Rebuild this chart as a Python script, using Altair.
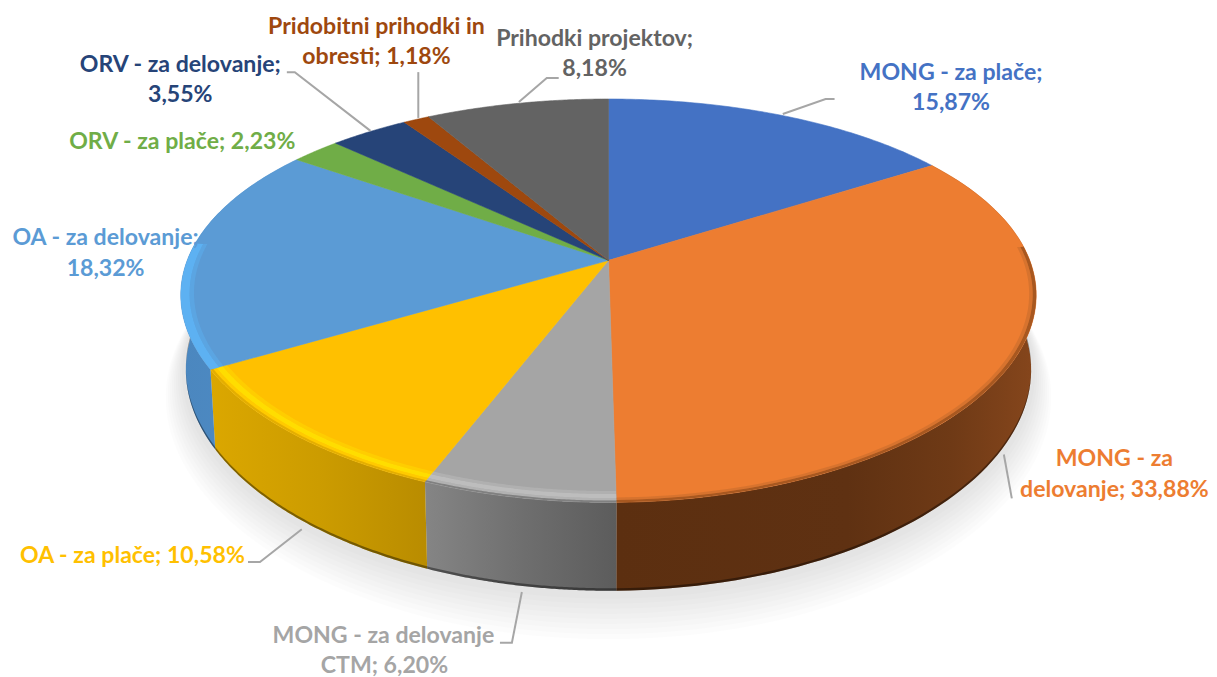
import numpy as np
import altair as alt

names = ["MONG - za plače", "MONG - za delovanje", "MONG - za delovanje CTM", "OA - za plače",
         "OA - za delovanje", "ORV - za plače", "ORV - za delovanje",
         "Pridobitni prihodki in obresti", "Prihodki projektov"]
shares = [15.87, 33.88, 6.20, 10.58, 18.32, 2.23, 3.55, 1.18, 8.18]
colors = ["#4472c4", "#ed7d31", "#a5a5a5", "#ffc000", "#5b9bd5", "#70ad47", "#264478", "#9e480e", "#636363"]

label_lines = ["MONG - za plače;", "15,87%", "MONG - za", "delovanje; 33,88%", "MONG - za delovanje", "CTM; 6,20%",
               "OA - za plače; 10,58%", "OA - za delovanje;", "18,32%", "ORV - za plače; 2,23%",
               "ORV - za delovanje;", "3,55%", "Pridobitni prihodki in", "obresti; 1,18%",
               "Prihodki projektov;", "8,18%"]
label_slice = [0, 0, 1, 1, 2, 2, 3, 4, 4, 5, 6, 6, 7, 7, 8, 8]
label_x = [955, 955, 1119, 1119, 385, 386, 133, 106, 106, 183, 181, 181, 378, 378, 597, 597]
label_y = [72, 102, 460, 491, 637, 667, 557, 238, 269, 141, 64, 94, 26, 56, 38, 68]

leader_id = [0, 0, 0, 1, 1, 2, 2, 2, 3, 3, 3, 4, 4, 4, 5, 5, 6, 6, 6]
leader_x = [786, 829, 838, 1008, 1016, 524, 514, 502, 303, 261, 249, 372, 296, 288, 420, 420, 521, 549, 561]
leader_y = [113, 98, 98, 455, 499, 593, 644, 644, 530, 563, 563, 130, 71, 71, 117, 71, 101, 77, 77]

# perspective model of the disc, in picture pixels
CX, CY, A, B, PX, PY = 610.0, 260.0, 423.0, 194.4, 0.173, 0.2
CY2, A2, B2 = 333.0, 418.0, 207.0

cum = np.concatenate([[0], np.cumsum(shares)])
edges = cum / cum[-1] * 2 * np.pi


def top(t, r=1.0):
    u, v = r * np.sin(t), r * np.cos(t)
    return np.c_[CX + A * u / (1 + PX * v), CY - B * v / (1 + PY * v)]


def bottom(t, grow=0.0, drop=0.0):
    u, v = np.sin(t), np.cos(t)
    return np.c_[CX + (A2 + grow) * u / (1 + PX * v), CY2 + drop - (B2 + grow) * v / (1 + PY * v)]


def feature(pts, **props):
    ring = [[float(x), float(y)] for x, y in pts]
    ring.append(ring[0])
    return {"type": "Feature", "geometry": {"type": "Polygon", "coordinates": [ring]}, "properties": props}


def arc(a, b, n=80):
    return np.linspace(a, b, n)


def shape(features, fill, opacity=1.0):
    return alt.Chart(alt.Data(values=features)).mark_geoshape(
        fill=fill, opacity=opacity, strokeWidth=0, stroke="transparent"
    )


def grad(*stops):
    return alt.LinearGradient(gradient="linear", x1=0, x2=1, y1=0, y2=0,
                              stops=[alt.GradientStop(offset=o, color=c) for o, c in stops])


layers = []

# soft shadow below the disc
circle = arc(0, 2 * np.pi, 240)[:-1]
for i in range(9):
    layers.append(shape([feature(bottom(circle, grow=4 + i * 2.0, drop=3 + i * 2.6))], "#000000", 0.012))

# side wall
side_fill = {
    1: grad((0, "#5c2f10"), (0.55, "#5f3112"), (0.8, "#6f3a16"), (1, "#86461c")),
    2: grad((0, "#858585"), (0.5, "#6f6f6f"), (1, "#5c5c5c")),
    3: grad((0, "#dba700"), (0.5, "#cc9c00"), (1, "#b98c00")),
    4: grad((0, "#4b87bf"), (1, "#4f8cc6")),
}
for i, fill in side_fill.items():
    t = arc(edges[i], edges[i + 1])
    layers.append(shape([feature(np.r_[top(t), bottom(t)[::-1]])], fill))
    strip = np.r_[bottom(t, drop=-2.5), bottom(t)[::-1]]
    layers.append(shape([feature(strip)], "#000000", 0.4))

# top face
faces = []
for i, c in enumerate(colors):
    t = arc(edges[i], edges[i + 1])
    faces.append(feature(np.r_[[[CX, CY]], top(t)], color=c))
layers.append(
    alt.Chart(alt.Data(values=faces)).mark_geoshape(strokeWidth=0.6).encode(
        fill=alt.Fill("properties.color:N", scale=None),
        stroke=alt.Stroke("properties.color:N", scale=None),
    )
)

# bevel on the rim of the top face: (from angle, to angle, colour, inner radius, outer radius, opacity)
bevels = [
    (1.5, edges[2], "#7a3f16", 0.992, 1.0, 0.6),
    (1.5, edges[2], "#b0602a", 0.984, 0.992, 0.35),
    (edges[2], edges[3], "#c6c6c6", 0.962, 0.972, 0.35),
    (edges[2], edges[3], "#c6c6c6", 0.972, 0.986, 0.75),
    (edges[2], edges[3], "#c6c6c6", 0.986, 0.994, 0.4),
    (edges[2], edges[3], "#707070", 0.994, 1.0, 0.7),
    (edges[3], edges[4], "#ffe000", 0.962, 0.972, 0.4),
    (edges[3], edges[4], "#ffe000", 0.972, 0.986, 0.9),
    (edges[3], edges[4], "#ffd000", 0.986, 0.994, 0.6),
    (edges[3], edges[4], "#d8a600", 0.994, 1.0, 0.7),
    (edges[4], edges[4] + 0.62, "#5db4f5", 0.98, 1.0, 0.9),
    (edges[4], edges[4] + 0.62, "#5db4f5", 0.97, 0.98, 0.4),
]
for a, b, c, r0, r1, op in bevels:
    t = arc(a, b)
    layers.append(shape([feature(np.r_[top(t, r1), top(t, r0)[::-1]])], c, op))

X = alt.X("x:Q", scale=alt.Scale(domain=[8, 1209], range=[0, 1201]), axis=None)
Y = alt.Y("y:Q", scale=alt.Scale(domain=[8, 669], range=[0, 661]), axis=None)

leaders = alt.Chart(alt.Data(values=[
    {"id": i, "o": k, "x": x, "y": y} for k, (i, x, y) in enumerate(zip(leader_id, leader_x, leader_y))
])).mark_line(color="#a6a6a6", strokeWidth=2).encode(x=X, y=Y, detail="id:N", order="o:Q")

labels = alt.Chart(alt.Data(values=[
    {"t": t, "x": x, "y": y, "c": colors[s]} for t, x, y, s in zip(label_lines, label_x, label_y, label_slice)
])).mark_text(font="Lato", fontWeight="bold", fontSize=23.2, align="center", baseline="middle").encode(
    x=X, y=Y, text="t:N", color=alt.Color("c:N", scale=None)
)

chart = alt.layer(*layers, leaders, labels).project(type="identity", scale=1, translate=[-7, -8]).properties(
    width=1201, height=661, padding=0, background="white"
).configure_view(stroke=None)

chart.save("out.html", embed_options={"renderer": "svg", "actions": False})
